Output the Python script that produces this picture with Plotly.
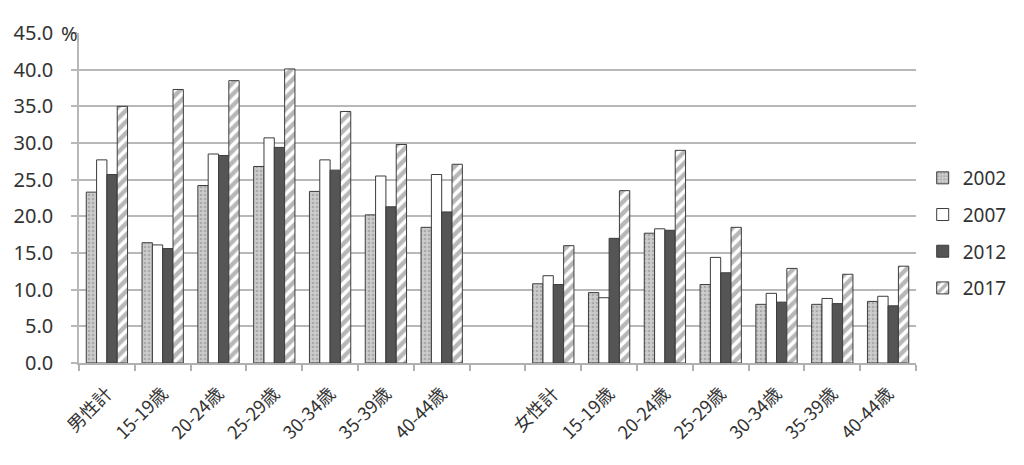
import plotly.graph_objects as go

categories = ["男性計", "15-19歳", "20-24歳", "25-29歳", "30-34歳", "35-39歳", "40-44歳",
              "",
              "女性計", "15-19歳", "20-24歳", "25-29歳", "30-34歳", "35-39歳", "40-44歳"]
years = ["2002", "2007", "2012", "2017"]
v2002 = [23.3, 16.4, 24.2, 26.8, 23.4, 20.2, 18.5, None, 10.8, 9.6, 17.7, 10.7, 8.0, 8.0, 8.4]
v2007 = [27.7, 16.1, 28.5, 30.7, 27.7, 25.5, 25.7, None, 11.9, 8.9, 18.3, 14.4, 9.5, 8.8, 9.1]
v2012 = [25.7, 15.6, 28.3, 29.4, 26.3, 21.3, 20.6, None, 10.7, 17.0, 18.1, 12.3, 8.3, 8.1, 7.8]
v2017 = [35.0, 37.3, 38.5, 40.1, 34.3, 29.8, 27.1, None, 16.0, 23.5, 29.0, 18.5, 12.9, 12.1, 13.2]
y_ticks = [0, 5, 10, 15, 20, 25, 30, 35, 40, 45]

series = [v2002, v2007, v2012, v2017]
styles = [
    dict(color="#c8c8c8", pattern=dict(shape=".", fgcolor="#888888", bgcolor="#cccccc", size=4, solidity=0.35)),
    dict(color="#ffffff"),
    dict(color="#555555"),
    dict(color="#ffffff", pattern=dict(shape="/", fgcolor="#707070", bgcolor="#ffffff", size=8, solidity=0.55)),
]

xpos = list(range(len(categories)))
fig = go.Figure()
for name, vals, st in zip(years, series, styles):
    fig.add_trace(go.Bar(
        x=xpos, y=vals, name=name, legendgroup=name,
        marker=dict(line=dict(color="#3c3c3c", width=1), **st),
    ))

TXT = "#333333"
fig.update_layout(
    width=1024, height=465,
    margin=dict(l=79, r=108, t=33, b=102),
    paper_bgcolor="white", plot_bgcolor="white",
    barmode="group", bargap=0.26, bargroupgap=0,
    font=dict(family="Noto Sans, Noto Sans CJK JP", size=19, color=TXT),
    legend=dict(x=1.008, xanchor="left", xref="paper", y=0.394, yanchor="middle",
                font=dict(size=19, color=TXT), tracegroupgap=9,
                itemwidth=30, bgcolor="rgba(0,0,0,0)"),
    showlegend=True,
)
fig.update_xaxes(
    automargin=False,
    range=[-0.5, len(categories) - 0.5],
    tickmode="array", tickvals=xpos, ticktext=categories, tickangle=-45,
    ticks="outside", ticklen=11, tickcolor="rgba(0,0,0,0)",
    showgrid=False, zeroline=False,
    showline=True, linecolor="#b0b0b0", linewidth=2,
    tickfont=dict(family="Noto Sans CJK JP", size=18, color=TXT),
    minor=dict(ticks="outside", tick0=-0.5, dtick=1, ticklen=6, tickcolor="#b0b0b0", tickwidth=1.5, showgrid=False),
)
fig.update_yaxes(
    automargin=False,
    range=[0, 45], tickmode="array", tickvals=y_ticks,
    ticktext=[f"{v:.1f}" for v in y_ticks],
    showgrid=True, gridcolor="#b8b8b8", gridwidth=1.5,
    zeroline=False, showline=True, linecolor="#b8b8b8", linewidth=1.5,
    ticks="outside", ticklen=6, tickcolor="#b8b8b8", tickwidth=1.5,
    ticklabelstandoff=14,
    tickfont=dict(family="Noto Sans", size=20, color=TXT),
)
fig.add_annotation(text="%", xref="paper", yref="y", x=-0.011, y=45, xanchor="center", yanchor="middle",
                   showarrow=False, font=dict(family="Noto Sans", size=20, color=TXT))

fig.write_html("out.html")
